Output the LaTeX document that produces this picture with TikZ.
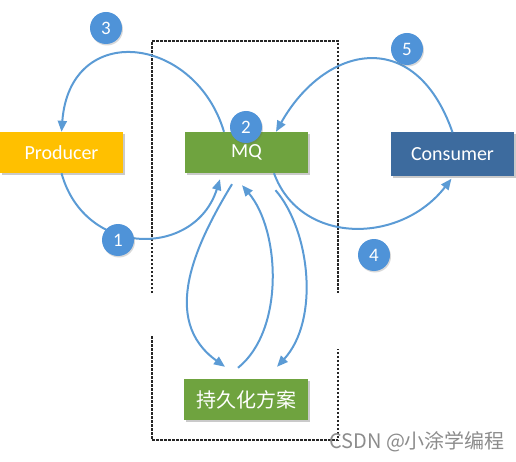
\documentclass[tikz,border=0pt]{standalone}
\usepackage{fontspec}
\setmainfont{Carlito}
\newfontfamily\cjkfont{Noto Sans CJK SC}
\usetikzlibrary{arrows.meta,shadows}
\definecolor{prodc}{HTML}{FFC000}
\definecolor{mqc}{HTML}{6FA33F}
\definecolor{consc}{HTML}{3D6B9E}
\definecolor{numc}{HTML}{4F93D8}
\definecolor{linec}{HTML}{5B9BD5}
\begin{document}
\begin{tikzpicture}[x=1pt,y=-1pt,
  box/.style={minimum width=123pt, minimum height=41pt, inner sep=0pt, text=white,
    font=\fontsize{20}{24}\selectfont,
    drop shadow={shadow xshift=2pt, shadow yshift=-2pt, opacity=0.35, fill=black!60}},
  num/.style={circle, fill=numc, minimum size=32pt, inner sep=0pt, text=white,
    font=\fontsize{19}{22}\selectfont,
    drop shadow={shadow xshift=1pt, shadow yshift=-1.5pt, opacity=0.25, fill=black!60}},
  flow/.style={draw=linec, line width=2pt, -{Triangle[length=11pt,width=9pt]}},
  dashline/.style={draw=black!85, line width=2.2pt, dash pattern=on 2.5pt off 1.5pt}]
\useasboundingbox (0,0) rectangle (516,462);
% dashed frame
\draw[dashline] (152,293) -- (152,41) -- (338,41) -- (338,293);
\draw[dashline] (152,336) -- (152,440) -- (338,440) -- (338,349);
% boxes
\node[box, fill=prodc] (prod) at (61.5,152.5) {Producer};
\node[box, fill=mqc] (mq) at (246.5,152.5) {MQ};
\node[box, fill=consc, minimum height=44pt] (cons) at (452.5,154.5) {Consumer};
\node[box, fill=mqc, minimum width=124pt, font=\cjkfont\fontsize{20}{24}\selectfont] (pers) at (246,399.5) {持久化方案};
% arrows
\draw[flow] ([shift={(-22.5,0)}]mq.north) .. controls (195,35) and (70,20) .. (prod.north);
\draw[flow] (prod.south) .. controls (85,258) and (195,258) .. ([shift={(-26.5,6)}]mq.south);
\draw[flow] (cons.north) .. controls (415,25) and (325,45) .. ([shift={(29.5,0)}]mq.north);
\draw[flow] ([shift={(27.5,0)}]mq.south) .. controls (300,245) and (400,245) .. ([shift={(-1,2)}]cons.south);
\draw[flow] ([shift={(-14.5,11)}]mq.south) .. controls (195,245) and (160,320) .. ([shift={(-21,-12)}]pers.north);
\draw[flow] ([shift={(-8,-11)}]pers.north) .. controls (285,330) and (280,230) .. ([shift={(-4.5,12)}]mq.south);
\draw[flow] ([shift={(29,17)}]mq.south) .. controls (310,230) and (320,320) .. ([shift={(31,-12)}]pers.north);
% numbers
\node[num] (n3) at (106,28) {3};
\node[num] (n2) at (246,127) {2};
\node[num] (n5) at (407,49) {5};
\node[num] (n1) at (118,240) {1};
\node[num] (n4) at (374,255) {4};
% watermark
\node[anchor=west, inner sep=0pt, text=black!45, font=\cjkfont\fontsize{20}{24}\selectfont] (wm) at (329,442) {CSDN @小涂学编程};
\end{tikzpicture}
\end{document}
